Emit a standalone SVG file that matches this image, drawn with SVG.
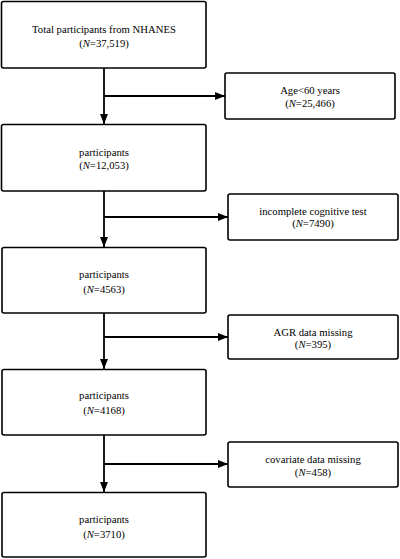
<svg xmlns="http://www.w3.org/2000/svg" width="400" height="559" viewBox="0 0 400 559">
<defs>
<marker id="ah" markerWidth="10" markerHeight="10" viewBox="0 0 10 10" refX="10" refY="5" orient="auto" markerUnits="userSpaceOnUse">
<path d="M0,1 L10,5 L0,9 Z" fill="#000"/>
</marker>
<style>
.box{fill:#fff;stroke:#000;stroke-width:1.6}
.t{font-family:"Liberation Serif","Times New Roman",serif;font-size:10.7px;fill:#000;text-anchor:middle}
.c{fill:none;stroke:#000;stroke-width:1.8}
</style>
</defs>
<rect width="400" height="559" fill="#fff"/>
<g id="connectors">
<line class="c" x1="104" y1="68" x2="104" y2="124" marker-end="url(#ah)"/>
<line class="c" x1="104" y1="96" x2="225" y2="96" marker-end="url(#ah)"/>
<line class="c" x1="104" y1="191" x2="104" y2="247" marker-end="url(#ah)"/>
<line class="c" x1="104" y1="217" x2="228" y2="217" marker-end="url(#ah)"/>
<line class="c" x1="104" y1="313" x2="104" y2="369" marker-end="url(#ah)"/>
<line class="c" x1="104" y1="337" x2="228" y2="337" marker-end="url(#ah)"/>
<line class="c" x1="104" y1="435" x2="104" y2="492" marker-end="url(#ah)"/>
<line class="c" x1="104" y1="464" x2="228" y2="464" marker-end="url(#ah)"/>
</g>
<g id="n1"><rect class="box" x="1.5" y="1.5" width="204.5" height="66.5" rx="2"/>
<text class="t" x="104" y="33">Total participants from NHANES</text>
<text class="t" x="104" y="47">(<tspan font-style="italic">N</tspan>=37,519)</text></g>
<g id="e1"><rect class="box" x="225" y="73" width="170" height="46" rx="2"/>
<text class="t" x="310" y="94">Age&lt;60 years</text>
<text class="t" x="310" y="107">(<tspan font-style="italic">N</tspan>=25,466)</text></g>
<g id="n2"><rect class="box" x="1.5" y="124.5" width="204.5" height="66.5" rx="2"/>
<text class="t" x="104" y="156">participants</text>
<text class="t" x="104" y="169">(<tspan font-style="italic">N</tspan>=12,053)</text></g>
<g id="e2"><rect class="box" x="228" y="194" width="170" height="46" rx="2"/>
<text class="t" x="313" y="215">incomplete cognitive test</text>
<text class="t" x="313" y="227">(<tspan font-style="italic">N</tspan>=7490)</text></g>
<g id="n3"><rect class="box" x="2" y="247.5" width="204" height="65.5" rx="2"/>
<text class="t" x="104" y="278">participants</text>
<text class="t" x="104" y="293">(<tspan font-style="italic">N</tspan>=4563)</text></g>
<g id="e3"><rect class="box" x="228" y="315" width="170" height="44" rx="2"/>
<text class="t" x="313" y="336">AGR data missing</text>
<text class="t" x="313" y="348">(<tspan font-style="italic">N</tspan>=395)</text></g>
<g id="n4"><rect class="box" x="2" y="369.5" width="204" height="65.5" rx="2"/>
<text class="t" x="104" y="399">participants</text>
<text class="t" x="104" y="414">(<tspan font-style="italic">N</tspan>=4168)</text></g>
<g id="e4"><rect class="box" x="228" y="442" width="170" height="45" rx="2"/>
<text class="t" x="313" y="463">covariate data missing</text>
<text class="t" x="313" y="476">(<tspan font-style="italic">N</tspan>=458)</text></g>
<g id="n5"><rect class="box" x="2" y="492.5" width="204" height="64.5" rx="2"/>
<text class="t" x="104" y="523">participants</text>
<text class="t" x="104" y="538">(<tspan font-style="italic">N</tspan>=3710)</text></g>
</svg>
